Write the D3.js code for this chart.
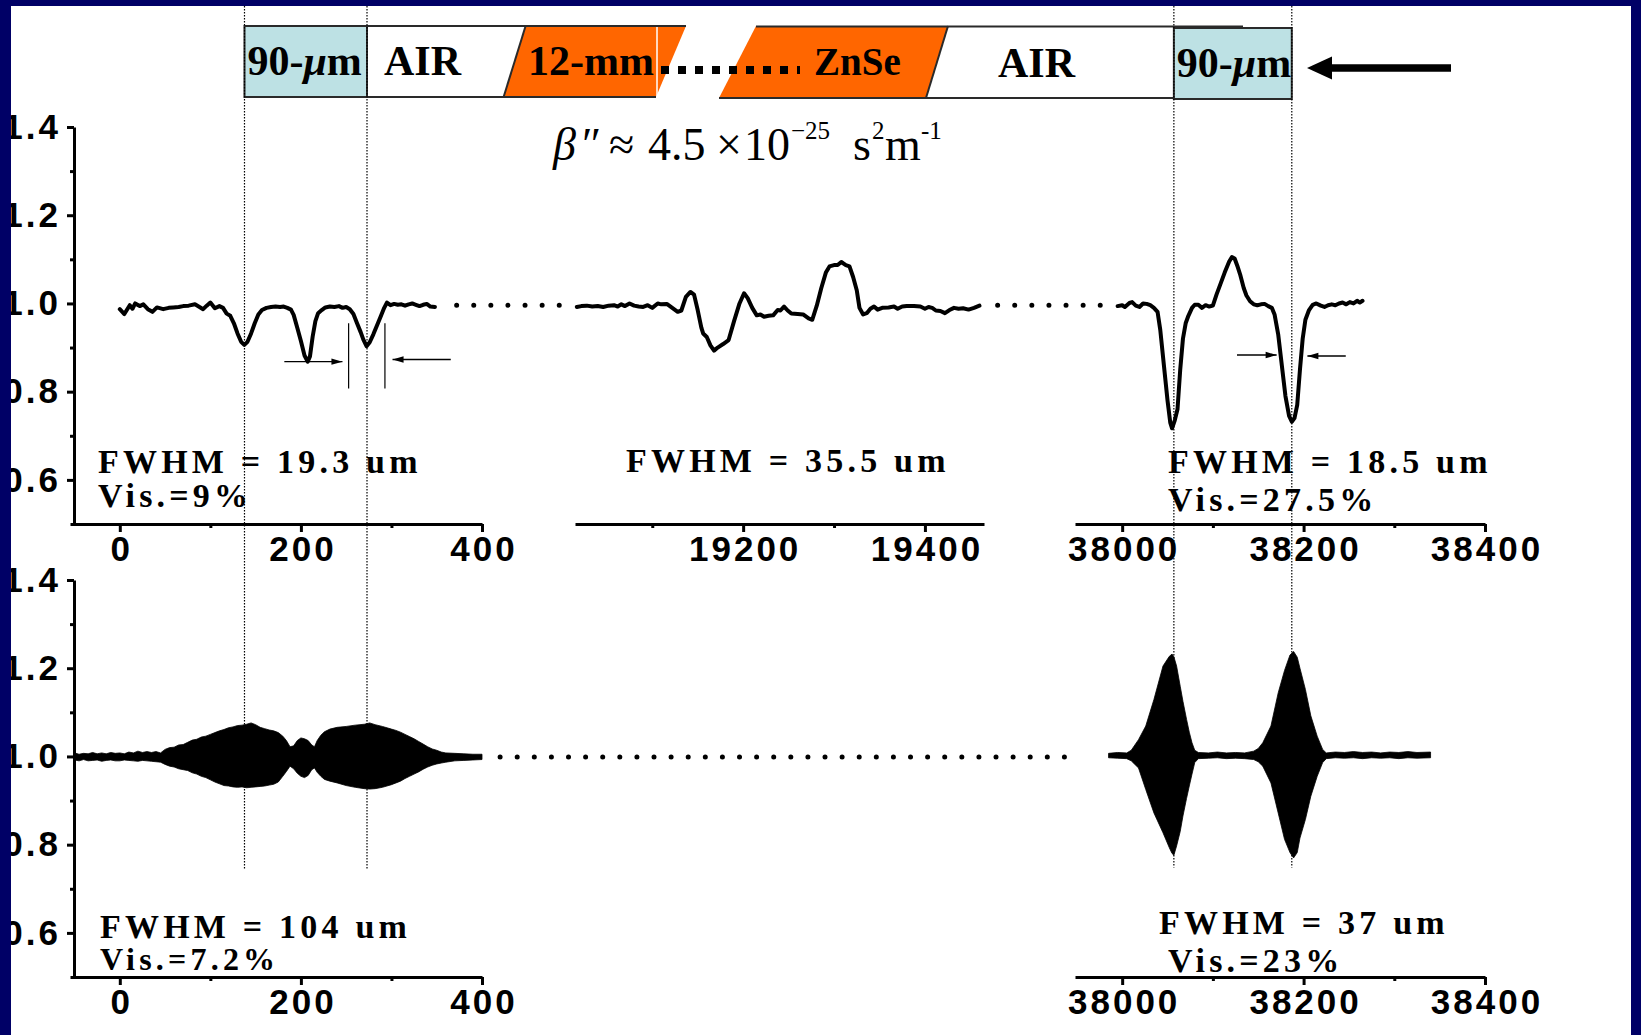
<!DOCTYPE html>
<html>
<head>
<meta charset="utf-8">
<script src="https://cdn.jsdelivr.net/npm/d3@7"></script>
<style>
  html, body { margin: 0; padding: 0; background: #fff; overflow: hidden; }
</style>
</head>
<body>
<div id="chart"></div>
<script>
// ---- data ----
const yTicks     = [0.6, 0.8, 1.0, 1.2, 1.4];
const yMinor     = [0.7, 0.9, 1.1, 1.3];
const leftTicks  = [0, 200, 400];
const leftMinor  = [100, 300];
const midTicks   = [19200, 19400];
const midMinor   = [19100, 19300];
const rightTicks = [38000, 38200, 38400];
const rightMinor = [38100, 38300];

// cross-correlation traces [position um, normalized signal]
const corrStart = [
  [0,0.987],[5,0.976],[11,0.996],[14,0.988],[17,1.0],[22,0.994],[26,0.998],[31,0.987],[36,0.981],
  [41,0.991],[48,0.987],[54,0.99],[59,0.991],[65,0.992],[70,0.994],[76,0.995],[83,0.998],[88,0.992],
  [92,0.987],[96,0.995],[100,1.002],[105,0.989],[110,0.994],[114,0.99],[118,0.977],[122,0.972],
  [126,0.955],[130,0.932],[134,0.913],[137.5,0.906],[141,0.913],[145,0.932],[149,0.955],[153,0.975],
  [157,0.985],[162,0.99],[167,0.992],[172,0.993],[177,0.992],[181,0.993],[185,0.99],[189,0.986],
  [192,0.974],[196,0.945],[200,0.915],[204,0.882],[207.5,0.868],[210,0.88],[213,0.925],[216,0.96],
  [219,0.978],[223,0.985],[227,0.991],[232,0.993],[237,0.992],[242,0.994],[246,0.99],[250,0.992],
  [254,0.987],[258,0.976],[262,0.955],[266,0.935],[269,0.918],[272.5,0.903],[276,0.912],[280,0.93],
  [284,0.95],[288,0.97],[292,0.99],[295,1.002],[299,0.996],[303,0.999],[307,0.997],[311,0.998],
  [315,0.995],[319,0.998],[323,1.0],[327,0.997],[331,0.994],[335,0.997],[339,0.999],[343,0.993],[348,0.992]
];
const corrMiddle = [
  [19017,0.992],[19022,0.994],[19028,0.995],[19034,0.993],[19040,0.994],[19046,0.992],[19052,0.995],
  [19058,0.996],[19062,0.993],[19066,0.998],[19070,0.994],[19075,1.0],[19080,0.995],[19085,0.993],
  [19090,0.992],[19095,0.996],[19100,0.99],[19106,1.0],[19110,0.998],[19116,0.999],[19122,0.99],
  [19128,0.981],[19132,0.984],[19137,1.015],[19142,1.026],[19146,1.02],[19150,0.985],[19154,0.945],
  [19156,0.932],[19160,0.924],[19164,0.905],[19168,0.893],[19172,0.9],[19178,0.908],[19184,0.917],
  [19190,0.96],[19196,1.0],[19201,1.023],[19205,1.012],[19210,0.99],[19215,0.973],[19219,0.975],
  [19223,0.97],[19228,0.972],[19233,0.973],[19238,0.985],[19241,0.984],[19245,0.993],[19249,0.984],
  [19253,0.977],[19260,0.976],[19266,0.975],[19272,0.966],[19276,0.963],[19281,0.995],[19286,1.035],
  [19291,1.07],[19295,1.084],[19300,1.087],[19304,1.087],[19308,1.094],[19313,1.087],[19317,1.084],
  [19321,1.06],[19325,1.03],[19328,0.99],[19332,0.975],[19336,0.978],[19340,0.988],[19344,0.993],
  [19348,0.986],[19353,0.99],[19360,0.991],[19366,0.993],[19370,0.988],[19375,0.993],[19380,0.994],
  [19388,0.994],[19395,0.993],[19400,0.988],[19404,0.992],[19408,0.99],[19412,0.984],[19417,0.983],
  [19422,0.978],[19427,0.985],[19432,0.99],[19437,0.988],[19442,0.989],[19448,0.986],[19454,0.99],[19460,0.995]
];
const corrEnd = [
  [37995,0.994],[38000,0.996],[38003,0.992],[38008,1.001],[38011,1.003],[38015,0.995],[38019,0.992],
  [38023,1.0],[38027,0.999],[38031,0.996],[38035,0.99],[38039,0.981],[38042,0.94],[38046,0.86],
  [38050,0.78],[38053,0.73],[38055,0.717],[38058,0.735],[38061,0.76],[38064,0.85],[38067,0.92],
  [38070,0.955],[38073,0.972],[38077,0.99],[38080,0.997],[38084,0.997],[38088,0.99],[38092,0.996],
  [38096,0.993],[38100,0.995],[38104,1.02],[38108,1.042],[38113,1.07],[38118,1.095],[38121,1.105],
  [38124,1.102],[38127,1.085],[38130,1.066],[38134,1.035],[38137,1.018],[38141,1.005],[38145,0.998],
  [38149,0.996],[38153,0.998],[38157,0.999],[38161,0.994],[38165,0.99],[38168,0.975],[38172,0.93],
  [38176,0.86],[38180,0.79],[38184,0.745],[38187,0.732],[38190,0.74],[38193,0.77],[38196,0.85],
  [38199,0.92],[38202,0.963],[38206,0.985],[38210,0.997],[38214,1.0],[38219,0.995],[38223,0.992],
  [38227,0.996],[38231,0.998],[38235,0.996],[38239,1.0],[38243,1.002],[38247,0.998],[38251,1.003],
  [38255,1.0],[38259,1.006],[38262,1.002],[38265,1.006]
];

// interferogram envelopes [position um, upper, lower]
const fringeStart = [
  [-50,1.008,0.992],[-45,1.005,0.99],[-40,1.007,0.993],[-35,1.006,0.99],[-30,1.009,0.991],[-25,1.006,0.992],
  [-20,1.008,0.989],[-15,1.006,0.991],[-10,1.009,0.992],[-5,1.007,0.99],[0,1.008,0.99],[5,1.006,0.992],
  [10,1.01,0.991],[15,1.008,0.99],[20,1.012,0.989],[25,1.009,0.991],[30,1.011,0.99],[35,1.009,0.989],
  [40,1.011,0.988],[45,1.008,0.987],[50,1.016,0.982],[55,1.02,0.978],[60,1.021,0.976],[65,1.026,0.972],
  [70,1.027,0.97],[75,1.032,0.968],[80,1.037,0.963],[85,1.039,0.96],[90,1.044,0.955],[95,1.046,0.952],
  [100,1.05,0.947],[105,1.054,0.942],[110,1.058,0.938],[115,1.061,0.934],[120,1.065,0.933],
  [125,1.067,0.931],[130,1.07,0.93],[135,1.071,0.931],[140,1.073,0.929],[145,1.076,0.93],
  [150,1.072,0.931],[155,1.066,0.932],[160,1.063,0.933],[165,1.06,0.935],[170,1.058,0.937],
  [175,1.054,0.942],[180,1.046,0.955],[184,1.036,0.966],[188,1.022,0.978],[192,1.024,0.972],
  [196,1.036,0.962],[200,1.042,0.955],[204,1.04,0.952],[208,1.036,0.957],[212,1.026,0.97],
  [215,1.022,0.974],[218,1.036,0.964],[222,1.048,0.955],[226,1.056,0.948],[232,1.062,0.944],
  [240,1.066,0.94],[250,1.068,0.934],[260,1.071,0.93],[270,1.073,0.927],[276,1.076,0.926],
  [282,1.072,0.927],[290,1.068,0.93],[300,1.062,0.936],[305,1.059,0.94],[310,1.055,0.944],
  [315,1.05,0.95],[320,1.045,0.955],[325,1.04,0.96],[330,1.034,0.965],[335,1.028,0.971],
  [340,1.022,0.976],[345,1.017,0.98],[350,1.014,0.983],[355,1.01,0.985],[360,1.008,0.987],
  [370,1.007,0.99],[380,1.006,0.991],[390,1.005,0.992],[400,1.005,0.993]
];
const fringeEnd = [
  [37985,1.007,0.997],[37995,1.009,0.996],[38005,1.008,0.995],[38010,1.014,0.99],[38018,1.038,0.974],
  [38026,1.069,0.925],[38035,1.129,0.872],[38045,1.205,0.827],[38052,1.227,0.793],[38055,1.232,0.78],
  [38057,1.226,0.776],[38060,1.205,0.797],[38064,1.159,0.83],[38067,1.125,0.865],[38071,1.084,0.905],
  [38074,1.055,0.933],[38077,1.031,0.96],[38080,1.014,0.986],[38084,1.009,0.995],[38095,1.008,0.996],
  [38105,1.01,0.997],[38115,1.008,0.995],[38125,1.009,0.996],[38135,1.008,0.995],[38145,1.012,0.993],
  [38150,1.018,0.988],[38155,1.031,0.978],[38164,1.069,0.94],[38172,1.144,0.872],[38179,1.195,0.812],
  [38185,1.23,0.782],[38189,1.238,0.77],[38193,1.225,0.782],[38196,1.2,0.815],[38202,1.152,0.857],
  [38208,1.092,0.91],[38215,1.046,0.955],[38221,1.016,0.986],[38225,1.008,0.995],[38235,1.01,0.997],
  [38245,1.009,0.996],[38255,1.011,0.997],[38265,1.009,0.995],[38275,1.01,0.997],[38285,1.008,0.996],
  [38295,1.01,0.997],[38305,1.009,0.995],[38315,1.011,0.997],[38325,1.009,0.996],[38340,1.01,0.997]
];

// pulse positions (dotted guides) and the broken-axis gaps
const marksStart = [137.7, 273];
const marksEnd   = [38057, 38187];
const gapsTop    = [[372, 19000], [19480, 37978]];
const gapsBottom = [[420, 37937]];

// FWHM arrows [from, to, level] and bars [pos, v0, v1]
const arrowsStart = [[181.7, 245.9, 0.868], [365.5, 301.2, 0.873]];
const barsStart   = [[252.7, 0.955, 0.807], [292.8, 0.955, 0.807]];
const arrowsEnd   = [[38126.6, 38170.3, 0.883], [38246.5, 38204.2, 0.881]];

// ---- setup ----
const NAVY = '#000066', ORANGE = '#ff6600', CYAN = '#bde1e4';
const SERIF = "'Liberation Serif', 'Times New Roman', serif";
const SANS  = "'Liberation Sans', Arial, sans-serif";

const svg = d3.select('#chart').append('svg')
  .attr('width', 1641).attr('height', 1035)
  .style('display', 'block');

svg.append('rect').attr('width', 1641).attr('height', 1035).attr('fill', '#fff');

const xL = d3.scaleLinear().domain([-55, 400]).range([70, 482]);
const xM = d3.scaleLinear().domain([19015, 19465]).range([575, 984]);
const xR = d3.scaleLinear().domain([37948, 38400]).range([1075, 1485]);
const yT = d3.scaleLinear().domain([0.5, 1.4]).range([524, 127]);
const yB = d3.scaleLinear().domain([0.5, 1.4]).range([977, 580]);

// ==============================================
// HEADER — sample sketch
// ==============================================
const hdr  = svg.append('g');
const hTop = 26, hBot = 97;
const b1a = xL(marksStart[0]), b1b = xL(marksStart[1]);
const b2a = xR(marksEnd[0]),   b2b = xR(marksEnd[1]);

hdr.append('polygon').attr('points', `525.6,${hTop} 686,${hTop} 656,${hBot} 503.6,${hBot}`).attr('fill', ORANGE);
hdr.append('polygon').attr('points', `756,${hTop} 948,${hTop} 926,${hBot + 1} 719,${hBot + 1}`).attr('fill', ORANGE);
hdr.append('line').attr('x1', 657).attr('x2', 657).attr('y1', hTop).attr('y2', hBot)
  .attr('stroke', '#fff').attr('stroke-width', 1.5);

const edge = (x1, y1, x2, y2) => hdr.append('line')
  .attr('x1', x1).attr('y1', y1).attr('x2', x2).attr('y2', y2)
  .attr('stroke', '#2a2a2a').attr('stroke-width', 2);
edge(b1b, hTop, 686, hTop);
edge(b1b, hBot, 656, hBot);
edge(525.6, hTop, 503.6, hBot);
edge(756, hTop + 0.5, 1243, hTop + 0.5);
edge(719, hBot + 1, b2a, hBot + 1);
edge(948, hTop, 926, hBot + 1);

hdr.append('rect').attr('x', b1a).attr('y', hTop).attr('width', b1b - b1a).attr('height', hBot - hTop)
  .attr('fill', CYAN).attr('stroke', '#2a2a2a').attr('stroke-width', 2);
hdr.append('rect').attr('x', b2a).attr('y', hTop + 2).attr('width', b2b - b2a).attr('height', hBot - hTop)
  .attr('fill', CYAN).attr('stroke', '#2a2a2a').attr('stroke-width', 2);

// dotted "......" between the two ZnSe pieces
hdr.append('line').attr('x1', 661).attr('x2', 800).attr('y1', 70).attr('y2', 70)
  .attr('stroke', '#000').attr('stroke-width', 8).attr('stroke-dasharray', '8 9');

const hText = (x, y, parts, size) => {
  const t = hdr.append('text').attr('x', x).attr('y', y)
    .attr('font-family', SERIF).attr('font-weight', 'bold').attr('font-size', size || 42).attr('fill', '#000');
  parts.forEach(p => t.append('tspan').attr('font-style', p[1] ? 'italic' : 'normal').text(p[0]));
};
hText(b1a + 3, 75, [['90-'], ['μ', true], ['m']]);
hText(384, 75, [['AIR']]);
hText(528, 75, [['12-mm']]);
hText(814, 75, [['ZnSe']], 39);
hText(998, 77, [['AIR']]);
hText(b2a + 3, 77, [['90-'], ['μ', true], ['m']]);

// arrow (beam direction)
hdr.append('line').attr('x1', 1451).attr('x2', 1328).attr('y1', 68).attr('y2', 68)
  .attr('stroke', '#000').attr('stroke-width', 7.5);
hdr.append('polygon').attr('points', '1307,68 1332,56.5 1332,79.5').attr('fill', '#000');

// dispersion formula
const fg = svg.append('g').attr('font-family', SERIF).attr('fill', '#000');
const fPart = (x, txt, opt) => fg.append('text').attr('x', x).attr('y', opt && opt.sup ? 139 : 160)
  .attr('font-size', opt && opt.sup ? 25 : 46)
  .attr('font-style', opt && opt.it ? 'italic' : 'normal').text(txt);
fPart(553, 'β', { it: true });
fPart(582, '″');
fPart(609, '≈');
fPart(648, '4.5');
fPart(716, '×');
fPart(744, '10');
fPart(791, '−25', { sup: true });
fPart(853, 's');
fPart(872, '2', { sup: true });
fPart(885, 'm');
fPart(921, '-1', { sup: true });

// ==============================================
// GUIDES — dotted pulse positions & axis breaks
// ==============================================
const guides = svg.append('g').attr('stroke', '#000').attr('stroke-width', 1.2).attr('stroke-dasharray', '1.5 1.5');
marksStart.forEach(m => guides.append('line')
  .attr('x1', xL(m)).attr('x2', xL(m)).attr('y1', 6).attr('y2', yB(0.745)));
marksEnd.forEach(m => guides.append('line')
  .attr('x1', xR(m)).attr('x2', xR(m)).attr('y1', 6).attr('y2', yB(0.748)));

const dotLine = (x1, x2, y) => svg.append('line')
  .attr('x1', x1).attr('x2', x2).attr('y1', y).attr('y2', y)
  .attr('stroke', '#000').attr('stroke-width', 5)
  .attr('stroke-linecap', 'round').attr('stroke-dasharray', '0 17.1');
dotLine(xL(gapsTop[0][0]), xM(gapsTop[0][1]), yT(0.996));
dotLine(xM(gapsTop[1][0]), xR(gapsTop[1][1]), yT(0.996));
dotLine(xL(gapsBottom[0][0]), xR(gapsBottom[0][1]), yB(0.999));

// ==============================================
// TRACES
// ==============================================
const trace = (data, x, y) => svg.append('path')
  .datum(data)
  .attr('d', d3.line().x(d => x(d[0])).y(d => y(d[1])))
  .attr('fill', 'none').attr('stroke', '#000').attr('stroke-width', 4)
  .attr('stroke-linejoin', 'round').attr('stroke-linecap', 'round');
trace(corrStart, xL, yT);
trace(corrMiddle, xM, yT);
trace(corrEnd, xR, yT);

const fringe = (data, x, y) => svg.append('path')
  .datum(data)
  .attr('d', d3.area().x(d => x(d[0])).y0(d => y(d[2])).y1(d => y(d[1])))
  .attr('fill', '#000').attr('stroke', '#000').attr('stroke-width', 0.8);
fringe(fringeStart, xL, yB);
fringe(fringeEnd, xR, yB);

// FWHM arrows
const arrow = (x1, x2, y) => {
  svg.append('line').attr('x1', x1).attr('x2', x2).attr('y1', y).attr('y2', y)
    .attr('stroke', '#000').attr('stroke-width', 1.4);
  const dir = x2 > x1 ? 1 : -1;
  svg.append('polygon')
    .attr('points', `${x2},${y} ${x2 - dir * 11},${y - 3.2} ${x2 - dir * 11},${y + 3.2}`)
    .attr('fill', '#000');
};
arrowsStart.forEach(a => arrow(xL(a[0]), xL(a[1]), yT(a[2])));
arrowsEnd.forEach(a => arrow(xR(a[0]), xR(a[1]), yT(a[2])));
barsStart.forEach(b => svg.append('line')
  .attr('x1', xL(b[0])).attr('x2', xL(b[0])).attr('y1', yT(b[1])).attr('y2', yT(b[2]))
  .attr('stroke', '#000').attr('stroke-width', 1.2));

// ==============================================
// AXES
// ==============================================
function styleAxis(g) {
  g.select('.domain').attr('stroke', '#000').attr('stroke-width', 3);
  g.selectAll('.tick line').attr('stroke', '#000').attr('stroke-width', 3);
  g.selectAll('.tick text')
    .attr('fill', '#000').attr('font-size', 35).attr('font-weight', 'bold')
    .attr('font-family', SANS).style('letter-spacing', '3px');
}

function xAxis(scale, ticks, minor, y) {
  svg.append('g').attr('transform', `translate(0,${y})`)
    .call(d3.axisBottom(scale).tickValues(minor).tickSize(4).tickSizeOuter(0).tickFormat(''))
    .call(g => g.select('.domain').remove())
    .call(g => g.selectAll('.tick line').attr('stroke', '#000').attr('stroke-width', 3));
  svg.append('g').attr('transform', `translate(0,${y})`)
    .call(d3.axisBottom(scale).tickValues(ticks).tickSize(8).tickSizeOuter(0).tickPadding(4).tickFormat(d3.format('d')))
    .call(styleAxis)
    .call(g => g.selectAll('.tick text').attr('dx', '1.5px'));
}

function yAxis(scale) {
  svg.append('g').attr('transform', 'translate(74,0)')
    .call(d3.axisLeft(scale).tickValues(yMinor).tickSize(4).tickSizeOuter(0).tickFormat(''))
    .call(g => g.select('.domain').remove())
    .call(g => g.selectAll('.tick line').attr('stroke', '#000').attr('stroke-width', 3));
  svg.append('g').attr('transform', 'translate(74,0)')
    .call(d3.axisLeft(scale).tickValues(yTicks).tickSize(7).tickSizeOuter(0).tickPadding(6).tickFormat(d3.format('.1f')))
    .call(styleAxis);
}

xAxis(xL, leftTicks, leftMinor, 524);
xAxis(xM, midTicks, midMinor, 524);
xAxis(xR, rightTicks, rightMinor, 524);
xAxis(xL, leftTicks, leftMinor, 977);
xAxis(xR, rightTicks, rightMinor, 977);
yAxis(yT);
yAxis(yB);

// ==============================================
// ANNOTATIONS
// ==============================================
const note = (x, y, txt, size) => svg.append('text')
  .attr('x', x).attr('y', y)
  .attr('font-family', SERIF).attr('font-weight', 'bold').attr('font-size', size || 34)
  .style('letter-spacing', '4.2px').attr('fill', '#000').text(txt);
note(98, 473, 'FWHM = 19.3 um');
note(98, 507, 'Vis.=9%');
note(626, 472, 'FWHM = 35.5 um');
note(1168, 473, 'FWHM = 18.5 um');
note(1168, 511, 'Vis.=27.5%');
note(100, 938, 'FWHM = 104 um');
note(100, 970, 'Vis.=7.2%', 32);
note(1159, 934, 'FWHM = 37 um');
note(1168, 972, 'Vis.=23%');

// navy slide frame
svg.append('rect').attr('x', 0).attr('y', 0).attr('width', 11).attr('height', 1035).attr('fill', NAVY);
svg.append('rect').attr('x', 0).attr('y', 0).attr('width', 1641).attr('height', 6).attr('fill', NAVY);
svg.append('rect').attr('x', 1631).attr('y', 0).attr('width', 10).attr('height', 1035).attr('fill', NAVY);
</script>
</body>
</html>
